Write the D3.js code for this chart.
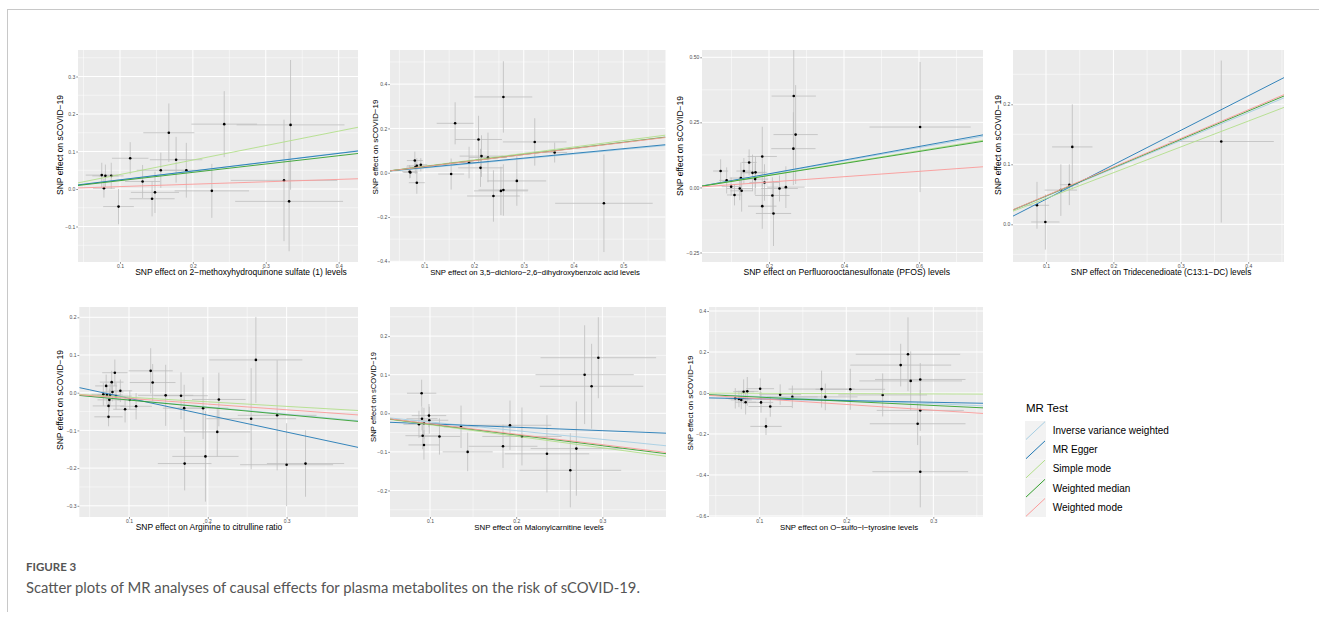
<!DOCTYPE html>
<html>
<head>
<meta charset="utf-8">
<script src="https://cdn.jsdelivr.net/npm/d3@7"></script>
<style>
  body { margin: 0; background: #fff; }
  svg { display: block; font-family: "Liberation Sans", Arial, sans-serif; }
</style>
</head>
<body>
<script>
// MR methods, in the order ggplot draws them
const methods = ['Inverse variance weighted', 'MR Egger', 'Simple mode', 'Weighted median', 'Weighted mode'];
const methodColors = ['#a6cee3', '#1f78b4', '#b2df8a', '#33a02c', '#fb9a99'];

// each SNP: [beta exposure, beta outcome, se exposure, se outcome]
const snps1 = [
  [0.075, 0.037, 0.022, 0.033], [0.080, 0.035, 0.018, 0.030], [0.088, 0.035, 0.017, 0.035],
  [0.078, 0.002, 0.015, 0.025], [0.098, -0.047, 0.021, 0.047], [0.114, 0.082, 0.025, 0.043],
  [0.131, 0.020, 0.024, 0.044], [0.144, -0.026, 0.031, 0.047], [0.148, -0.009, 0.033, 0.055],
  [0.156, 0.050, 0.033, 0.047], [0.167, 0.150, 0.035, 0.078], [0.177, 0.078, 0.036, 0.061],
  [0.191, 0.050, 0.030, 0.073], [0.226, -0.005, 0.051, 0.072], [0.243, 0.173, 0.045, 0.088],
  [0.325, 0.023, 0.073, 0.162], [0.334, 0.171, 0.074, 0.173], [0.332, -0.033, 0.074, 0.133]
];
const snps2 = [
  [0.0705, 0.0045, 0.015, 0.030], [0.072, 0.0015, 0.014, 0.025], [0.081, 0.055, 0.016, 0.040],
  [0.082, 0.025, 0.018, 0.030], [0.085, 0.031, 0.020, 0.035], [0.093, 0.036, 0.013, 0.030],
  [0.085, -0.045, 0.016, 0.050], [0.154, -0.006, 0.026, 0.070], [0.162, 0.223, 0.037, 0.095],
  [0.190, 0.046, 0.040, 0.071], [0.209, 0.150, 0.047, 0.107], [0.213, 0.022, 0.045, 0.086],
  [0.215, 0.075, 0.044, 0.094], [0.228, 0.069, 0.038, 0.112], [0.239, -0.105, 0.053, 0.116],
  [0.254, -0.082, 0.054, 0.109], [0.259, -0.078, 0.050, 0.116], [0.259, 0.342, 0.058, 0.161],
  [0.286, -0.037, 0.059, 0.112], [0.322, 0.139, 0.064, 0.107], [0.362, 0.091, 0.025, 0.045],
  [0.461, -0.138, 0.098, 0.220]
];
const snps3 = [
  [0.071, 0.063, 0.020, 0.045], [0.087, 0.027, 0.020, 0.050], [0.099, 0.003, 0.025, 0.035],
  [0.108, -0.029, 0.020, 0.040], [0.122, -0.004, 0.035, 0.045], [0.125, 0.036, 0.030, 0.060],
  [0.127, -0.013, 0.030, 0.080], [0.133, 0.063, 0.020, 0.050], [0.147, 0.096, 0.020, 0.050],
  [0.156, 0.056, 0.030, 0.070], [0.164, 0.058, 0.030, 0.060], [0.163, 0.032, 0.035, 0.060],
  [0.182, 0.119, 0.039, 0.114], [0.188, 0.019, 0.040, 0.070], [0.182, -0.072, 0.038, 0.087],
  [0.209, -0.031, 0.046, 0.070], [0.212, -0.100, 0.047, 0.125], [0.228, -0.004, 0.049, 0.050],
  [0.245, 0.001, 0.050, 0.080], [0.265, 0.149, 0.059, 0.140], [0.266, 0.351, 0.059, 0.200],
  [0.271, 0.203, 0.059, 0.190], [0.603, 0.232, 0.135, 0.250]
];
const snps4 = [
  [0.0866, 0.0317, 0.018, 0.039], [0.099, 0.0039, 0.021, 0.046], [0.122, 0.057, 0.024, 0.043],
  [0.1346, 0.066, 0.014, 0.034], [0.139, 0.129, 0.030, 0.071], [0.360, 0.138, 0.078, 0.135]
];
const snps5 = [
  [0.0674, -0.0044, 0.015, 0.030], [0.071, 0.018, 0.014, 0.030], [0.072, -0.006, 0.012, 0.025],
  [0.074, -0.035, 0.020, 0.030], [0.074, -0.064, 0.018, 0.025], [0.075, -0.019, 0.015, 0.030],
  [0.076, -0.006, 0.016, 0.030], [0.078, 0.028, 0.015, 0.030], [0.079, 0.002, 0.014, 0.025],
  [0.082, 0.053, 0.016, 0.035], [0.0835, -0.009, 0.020, 0.035], [0.089, 0.005, 0.015, 0.030],
  [0.095, -0.044, 0.015, 0.035], [0.101, -0.019, 0.016, 0.025], [0.109, -0.036, 0.020, 0.035],
  [0.1275, 0.058, 0.028, 0.060], [0.130, 0.027, 0.029, 0.049], [0.1465, -0.007, 0.035, 0.081],
  [0.166, -0.008, 0.034, 0.062], [0.170, -0.041, 0.027, 0.062], [0.1706, -0.188, 0.034, 0.071],
  [0.194, -0.041, 0.032, 0.082], [0.197, -0.169, 0.042, 0.120], [0.212, -0.104, 0.042, 0.065],
  [0.214, -0.018, 0.034, 0.071], [0.255, -0.069, 0.057, 0.134], [0.261, 0.087, 0.059, 0.114],
  [0.288, -0.060, 0.050, 0.146], [0.300, -0.191, 0.059, 0.110], [0.324, -0.188, 0.049, 0.088]
];
const snps6 = [
  [0.0872, -0.0285, 0.018, 0.035], [0.0903, 0.052, 0.017, 0.035], [0.0907, -0.014, 0.018, 0.030],
  [0.0915, -0.058, 0.020, 0.035], [0.093, -0.026, 0.018, 0.040], [0.093, -0.082, 0.018, 0.038],
  [0.0988, -0.006, 0.020, 0.030], [0.0992, -0.018, 0.022, 0.035], [0.111, -0.060, 0.024, 0.047],
  [0.136, -0.035, 0.020, 0.055], [0.1437, -0.100, 0.029, 0.050], [0.1847, -0.0855, 0.040, 0.056],
  [0.1928, -0.031, 0.048, 0.064], [0.2067, -0.060, 0.046, 0.075], [0.2357, -0.105, 0.049, 0.100],
  [0.2628, -0.1477, 0.059, 0.096], [0.2698, -0.0915, 0.053, 0.122], [0.2794, 0.100, 0.057, 0.128],
  [0.2875, 0.070, 0.060, 0.110], [0.2953, 0.144, 0.067, 0.105]
];
const snps7 = [
  [0.0724, -0.026, 0.011, 0.050], [0.0766, -0.029, 0.012, 0.040], [0.0793, -0.034, 0.012, 0.045],
  [0.082, 0.0064, 0.012, 0.060], [0.0843, -0.045, 0.012, 0.060], [0.0862, 0.008, 0.013, 0.070],
  [0.101, 0.021, 0.016, 0.050], [0.102, -0.046, 0.014, 0.050], [0.1126, -0.066, 0.025, 0.050],
  [0.1077, -0.163, 0.018, 0.042], [0.124, -0.008, 0.024, 0.050], [0.138, -0.019, 0.029, 0.055],
  [0.1716, 0.019, 0.038, 0.090], [0.1759, -0.019, 0.037, 0.065], [0.2046, 0.018, 0.040, 0.100],
  [0.2418, -0.0096, 0.051, 0.105], [0.2625, 0.136, 0.058, 0.104], [0.2709, 0.189, 0.060, 0.180],
  [0.274, 0.059, 0.059, 0.144], [0.285, 0.066, 0.052, 0.080], [0.285, -0.085, 0.050, 0.100],
  [0.282, -0.150, 0.055, 0.104], [0.285, -0.384, 0.055, 0.174]
];

// slopes per method (same order as methods), and the MR Egger intercept
const slopes1 = [0.240, 0.235, 0.386, 0.222, 0.064];
const slopes2 = [0.210, 0.213, 0.290, 0.275, 0.272];
const slopes3 = [0.255, 0.262, 0.235, 0.230, 0.103];
const slopes4 = [0.465, 0.574, 0.430, 0.472, 0.477];
const slopes5 = [-0.190, -0.448, -0.121, -0.195, -0.151];
const slopes6 = [-0.225, -0.088, -0.298, -0.280, -0.271];
const slopes7 = [-0.175, -0.083, -0.015, -0.203, -0.280];
const eggerIntercepts = [0.001, 0.002, 0.000, -0.0156, 0.030, -0.0186, -0.0205];

const exposures = [
  '2\u2212methoxyhydroquinone sulfate (1) levels',
  '3,5\u2212dichloro\u22122,6\u2212dihydroxybenzoic acid levels',
  'Perfluorooctanesulfonate (PFOS) levels',
  'Tridecenedioate (C13:1\u2212DC) levels',
  'Arginine to citrulline ratio',
  'Malonylcarnitine levels',
  'O\u2212sulfo\u2212l\u2212tyrosine levels'
];

// tick values and their labels
const xTicks1 = [0.1, 0.2, 0.3, 0.4];
const xTicks2 = [0.1, 0.2, 0.3, 0.4, 0.5];
const xTicks3 = [0.2, 0.4, 0.6];
const xTicks4 = [0.1, 0.2, 0.3, 0.4];
const xTicks5 = [0.1, 0.2, 0.3];
const xTicks6 = [0.1, 0.2, 0.3];
const xTicks7 = [0.1, 0.2, 0.3];
const yTicks1 = [-0.1, 0, 0.1, 0.2, 0.3];
const yTicks2 = [-0.4, -0.2, 0, 0.2, 0.4];
const yTicks3 = [-0.25, 0, 0.25, 0.5];
const yTicks4 = [0, 0.1, 0.2];
const yTicks5 = [-0.3, -0.2, -0.1, 0, 0.1, 0.2];
const yTicks6 = [-0.2, -0.1, 0, 0.1, 0.2];
const yTicks7 = [-0.6, -0.4, -0.2, 0, 0.2, 0.4];
const yLabels3 = ['\u22120.25', '0.00', '0.25', '0.50'];

const W = 1319, H = 623;
const svg = d3.select('body').append('svg').attr('width', W).attr('height', H);

// page frame
svg.append('line').attr('x1', 7).attr('x2', W).attr('y1', 9.5).attr('y2', 9.5)
  .attr('stroke', '#c8c8c8').attr('stroke-width', 1);
svg.append('line').attr('x1', 7.5).attr('x2', 7.5).attr('y1', 9).attr('y2', 612)
  .attr('stroke', '#c8c8c8').attr('stroke-width', 1);

const fmt1 = v => d3.format('.1f')(v).replace('-', '\u2212');

// layout per panel: box = [left, right, top, bottom]
const panels = [
  { snps: snps1, slopes: slopes1, xt: xTicks1, yt: yTicks1, box: [78, 358, 50, 262],
    xd: [0.0424, 0.4265], yd: [-0.1947, 0.3707], tx: 241, tw: 212, ly: [60, 145, 100] },
  { snps: snps2, slopes: slopes2, xt: xTicks2, yt: yTicks2, box: [390, 665.5, 50, 262],
    xd: [0.0311, 0.5848], yd: [-0.403, 0.554], tx: 535, tw: 210, ly: [375.7, 147, 95] },
  { snps: snps3, slopes: slopes3, xt: xTicks3, yt: yTicks3, yl: yLabels3, box: [702, 983, 50, 262],
    xd: [0.0213, 0.7707], yd: [-0.2865, 0.528], tx: 846.7, tw: 206.7, ly: [680, 146, 100] },
  { snps: snps4, slopes: slopes4, xt: xTicks4, yt: yTicks4, box: [1013, 1284, 50, 262],
    xd: [0.051, 0.4531], yd: [-0.0628, 0.2905], tx: 1161, tw: 180.7, ly: [998.3, 145, 100] },
  { snps: snps5, slopes: slopes5, xt: xTicks5, yt: yTicks5, box: [79.3, 358, 307, 517],
    xd: [0.0369, 0.3906], yd: [-0.3297, 0.2273], tx: 209, tw: 146.7, ly: [60, 400, 100] },
  { snps: snps6, slopes: slopes6, xt: xTicks6, yt: yTicks6, box: [390, 666, 307, 517],
    xd: [0.0536, 0.3738], yd: [-0.2687, 0.2754], tx: 539, tw: 129.7, ly: [373.3, 397, 90] },
  { snps: snps7, slopes: slopes7, xt: xTicks7, yt: yTicks7, box: [709, 983, 307, 517],
    xd: [0.0422, 0.3571], yd: [-0.605, 0.4195], tx: 849, tw: 138.3, ly: [690.7, 403, 95] }
];

function fitText(sel, width) {
  const len = sel.node().getComputedTextLength();
  sel.style('font-size', (10 * width / len) + 'px');
}

function minorBreaks(ticks, dom) {
  const step = ticks[1] - ticks[0];
  const out = [];
  for (let i = -1; i < ticks.length; i++) {
    const v = ticks[0] + (i + 0.5) * step;
    if (v > dom[0] && v < dom[1]) out.push(v);
  }
  return out;
}

panels.forEach((p, k) => {
  const [l, r, t, b] = p.box;
  const x = d3.scaleLinear().domain(p.xd).range([l, r]);
  const y = d3.scaleLinear().domain(p.yd).range([b, t]);
  const g = svg.append('g');

  g.append('clipPath').attr('id', 'clip' + k)
    .append('rect').attr('x', l).attr('y', t).attr('width', r - l).attr('height', b - t);

  g.append('rect').attr('x', l).attr('y', t).attr('width', r - l).attr('height', b - t)
    .attr('fill', '#ebebeb');

  // grid
  const grid = g.append('g').attr('stroke', '#fff');
  grid.selectAll('.mx').data(minorBreaks(p.xt, p.xd)).enter().append('line')
    .attr('x1', d => x(d)).attr('x2', d => x(d)).attr('y1', t).attr('y2', b).attr('stroke-width', 0.5);
  grid.selectAll('.my').data(minorBreaks(p.yt, p.yd)).enter().append('line')
    .attr('y1', d => y(d)).attr('y2', d => y(d)).attr('x1', l).attr('x2', r).attr('stroke-width', 0.5);
  grid.selectAll('.gx').data(p.xt).enter().append('line')
    .attr('x1', d => x(d)).attr('x2', d => x(d)).attr('y1', t).attr('y2', b).attr('stroke-width', 1);
  grid.selectAll('.gy').data(p.yt).enter().append('line')
    .attr('y1', d => y(d)).attr('y2', d => y(d)).attr('x1', l).attr('x2', r).attr('stroke-width', 1);

  const plot = g.append('g').attr('clip-path', `url(#clip${k})`);

  // error bars
  plot.selectAll('.ev').data(p.snps).enter().append('line')
    .attr('x1', d => x(d[0])).attr('x2', d => x(d[0]))
    .attr('y1', d => y(d[1] - d[3])).attr('y2', d => y(d[1] + d[3]))
    .attr('stroke', '#bebebe').attr('stroke-width', 0.8);
  plot.selectAll('.eh').data(p.snps).enter().append('line')
    .attr('y1', d => y(d[1])).attr('y2', d => y(d[1]))
    .attr('x1', d => x(d[0] - d[2])).attr('x2', d => x(d[0] + d[2]))
    .attr('stroke', '#bebebe').attr('stroke-width', 0.8);

  plot.selectAll('circle').data(p.snps).enter().append('circle')
    .attr('cx', d => x(d[0])).attr('cy', d => y(d[1])).attr('r', 1.3).attr('fill', '#000');

  // MR fits
  const fits = p.slopes.map((s, i) => ({ s, a: i === 1 ? eggerIntercepts[k] : 0, c: methodColors[i] }));
  plot.selectAll('.fit').data(fits).enter().append('line')
    .attr('x1', l).attr('x2', r)
    .attr('y1', d => y(d.a + d.s * p.xd[0])).attr('y2', d => y(d.a + d.s * p.xd[1]))
    .attr('stroke', d => d.c).attr('stroke-width', 0.9);

  // axes
  const xa = g.append('g').attr('transform', `translate(0,${b})`)
    .call(d3.axisBottom(x).tickValues(p.xt).tickFormat(fmt1).tickSize(1.8).tickPadding(1));
  const ya = g.append('g').attr('transform', `translate(${l},0)`)
    .call(d3.axisLeft(y).tickValues(p.yt)
      .tickFormat((d, i) => p.yl ? p.yl[i] : fmt1(d)).tickSize(1.8).tickPadding(1));
  [xa, ya].forEach(a => {
    a.select('.domain').remove();
    a.selectAll('line').attr('stroke', '#333').attr('stroke-width', 0.5);
    a.selectAll('text').attr('fill', '#4d4d4d').style('font-size', '5px')
      .style('font-family', '"Liberation Sans", Arial, sans-serif');
  });

  const xt = g.append('text').attr('x', p.tx).attr('y', b + 13).attr('text-anchor', 'middle')
    .attr('fill', '#000').style('font-size', '10px').text('SNP effect on ' + exposures[k]);
  fitText(xt, p.tw);

  const yt = g.append('text').attr('transform', `translate(${p.ly[0]},${p.ly[1]}) rotate(-90)`)
    .attr('text-anchor', 'middle').attr('dominant-baseline', 'central')
    .attr('fill', '#000').style('font-size', '10px').text('SNP effect on sCOVID\u221219');
  fitText(yt, p.ly[2]);
});

// legend
const lg = svg.append('g').attr('transform', 'translate(1025,0)');
lg.append('text').attr('x', 1).attr('y', 412).style('font-size', '11.5px').attr('fill', '#000')
  .text('MR Test');
const item = lg.selectAll('.item').data(methods).enter().append('g')
  .attr('transform', (d, i) => `translate(0,${421 + i * 19.2})`);
item.append('rect').attr('width', 21).attr('height', 19.2).attr('fill', '#f2f2f2');
item.append('line').attr('x1', 1).attr('y1', 18.5).attr('x2', 20).attr('y2', 0.7)
  .attr('stroke', (d, i) => methodColors[i]).attr('stroke-width', 1);
item.append('text').attr('x', 27.7).attr('y', 9.6).attr('dominant-baseline', 'central')
  .style('font-size', '10px').attr('fill', '#000').text(d => d);

// caption
svg.append('text').attr('x', 26).attr('y', 571).style('font-family', 'Lato, "Open Sans", sans-serif')
  .style('font-size', '11.5px').style('font-weight', 700).attr('fill', '#555').text('FIGURE 3');
svg.append('text').attr('x', 26).attr('y', 593).style('font-family', 'Lato, "Open Sans", sans-serif')
  .style('font-size', '14.8px').attr('fill', '#555')
  .text('Scatter plots of MR analyses of causal effects for plasma metabolites on the risk of sCOVID-19.');
</script>
</body>
</html>
